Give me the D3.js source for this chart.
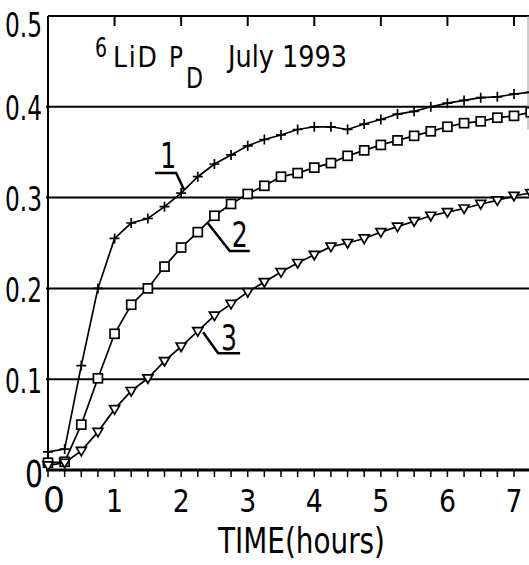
<!DOCTYPE html>
<html>
<head>
<meta charset="utf-8">
<script src="https://cdn.jsdelivr.net/npm/d3@7"></script>
<style>
  html, body { margin: 0; padding: 0; background: #fff; }
  svg { display: block; }
  text { font-family: "DejaVu Sans Condensed", "Liberation Sans Narrow", "Liberation Sans", sans-serif; fill: #000; }
</style>
</head>
<body>
<svg id="chart"></svg>
<script>
// time in hours, one reading every quarter hour
const times = [0, 0.25, 0.5, 0.75, 1, 1.25, 1.5, 1.75, 2, 2.25, 2.5, 2.75, 3, 3.25, 3.5,
  3.75, 4, 4.25, 4.5, 4.75, 5, 5.25, 5.5, 5.75, 6, 6.25, 6.5, 6.75, 7, 7.25];

// curve 1 (+)
const curve1 = [0.020, 0.023, 0.115, 0.200, 0.255, 0.272, 0.277, 0.290, 0.305, 0.323, 0.337,
  0.347, 0.357, 0.364, 0.369, 0.375, 0.378, 0.378, 0.375, 0.381, 0.386, 0.392, 0.395, 0.400,
  0.404, 0.407, 0.410, 0.411, 0.414, 0.416];
// curve 2 (squares)
const curve2 = [0.008, 0.009, 0.050, 0.101, 0.150, 0.182, 0.200, 0.224, 0.245, 0.262, 0.280,
  0.293, 0.304, 0.313, 0.323, 0.327, 0.333, 0.338, 0.346, 0.352, 0.358, 0.363, 0.368, 0.373,
  0.378, 0.382, 0.384, 0.388, 0.390, 0.394];
// curve 3 (down triangles)
const curve3 = [0.005, 0.008, 0.021, 0.042, 0.067, 0.087, 0.101, 0.120, 0.136, 0.153, 0.170,
  0.183, 0.196, 0.207, 0.218, 0.228, 0.237, 0.246, 0.250, 0.255, 0.262, 0.268, 0.274, 0.280,
  0.284, 0.288, 0.293, 0.297, 0.302, 0.305];

const xTicks = [0, 1, 2, 3, 4, 5, 6, 7];
const xMinorTicks = times;
const yTicks = [0, 0.1, 0.2, 0.3, 0.4, 0.5];
const gridValues = [0.1, 0.2, 0.3, 0.4];

const w = 529, h = 565;
const svg = d3.select("#chart").attr("width", w).attr("height", h);

const x = d3.scaleLinear().domain([0, 7]).range([48, 514]);
const y = d3.scaleLinear().domain([0, 0.5]).range([470, 16]);

// grid lines
svg.append("g")
  .selectAll("line")
  .data(gridValues)
  .join("line")
  .attr("x1", x(0) - 2).attr("x2", w)
  .attr("y1", (d) => y(d)).attr("y2", (d) => y(d))
  .attr("stroke", "#000").attr("stroke-width", 2);

// frame: top, left, bottom
svg.append("line")
  .attr("x1", x(0)).attr("x2", w).attr("y1", y(0.5)).attr("y2", y(0.5))
  .attr("stroke", "#000").attr("stroke-width", 2);
svg.append("line")
  .attr("x1", x(0)).attr("x2", x(0)).attr("y1", y(0.5)).attr("y2", y(0))
  .attr("stroke", "#000").attr("stroke-width", 2);
svg.append("line")
  .attr("x1", x(0) - 2).attr("x2", w).attr("y1", y(0)).attr("y2", y(0))
  .attr("stroke", "#000").attr("stroke-width", 3);
// faint right edge
svg.append("line")
  .attr("x1", w - 1).attr("x2", w - 1).attr("y1", y(0.5)).attr("y2", y(0.375))
  .attr("stroke", "#999").attr("stroke-width", 1);

// bottom minor ticks (every quarter hour), pointing down
svg.append("g")
  .selectAll("line")
  .data(xMinorTicks)
  .join("line")
  .attr("x1", (d) => x(d)).attr("x2", (d) => x(d))
  .attr("y1", y(0)).attr("y2", y(0) + 7)
  .attr("stroke", "#000").attr("stroke-width", 1.5);

// top ticks at every hour, pointing into the plot
svg.append("g")
  .selectAll("line")
  .data(xTicks.slice(1))
  .join("line")
  .attr("x1", (d) => x(d)).attr("x2", (d) => x(d))
  .attr("y1", y(0.5)).attr("y2", y(0.5) + 10)
  .attr("stroke", "#000").attr("stroke-width", 2);

// y labels (squeezed to the narrow lettering of the original)
svg.append("g")
  .selectAll("text")
  .data(yTicks)
  .join("text")
  .attr("x", (d) => (d === 0 ? 25 : 5))
  .attr("y", (d) => y(d) + (d === 0 ? 4 : d === 0.5 ? 9 : 2))
  .attr("dominant-baseline", "central")
  .attr("font-size", (d) => (d === 0 ? 38 : 33))
  .attr("textLength", (d) => (d === 0 ? 18 : 37))
  .attr("lengthAdjust", "spacingAndGlyphs")
  .text((d) => (d === 0 ? "0" : d3.format(".1f")(d)));

// x labels
svg.append("g")
  .selectAll("text")
  .data(xTicks)
  .join("text")
  .attr("x", (d) => x(d) + (d === 0 ? 6 : 0))
  .attr("y", 512)
  .attr("text-anchor", "middle")
  .attr("font-size", (d) => (d === 0 ? 36 : 32))
  .attr("textLength", (d) => (d === 0 ? 22 : 17))
  .attr("lengthAdjust", "spacingAndGlyphs")
  .text((d) => d);

svg.append("text")
  .attr("x", 218).attr("y", 553)
  .attr("font-size", 35)
  .attr("textLength", 167)
  .attr("lengthAdjust", "spacingAndGlyphs")
  .text("TIME(hours)");

// title
const title = svg.append("g");
title.append("text").attr("x", 95).attr("y", 57).attr("font-size", 27)
  .attr("textLength", 12).attr("lengthAdjust", "spacingAndGlyphs").text("6");
title.append("text").attr("x", 113).attr("y", 67).attr("font-size", 28)
  .attr("textLength", 44).text("LiD");
title.append("text").attr("x", 169).attr("y", 67).attr("font-size", 28)
  .attr("textLength", 14).attr("lengthAdjust", "spacingAndGlyphs").text("P");
title.append("text").attr("x", 186).attr("y", 88).attr("font-size", 28)
  .attr("textLength", 17).attr("lengthAdjust", "spacingAndGlyphs").text("D");
title.append("text").attr("x", 228).attr("y", 67).attr("font-size", 31)
  .attr("textLength", 119).attr("lengthAdjust", "spacingAndGlyphs").text("July 1993");

// curves
const series = [
  { key: "1", values: curve1, marker: "plus" },
  { key: "2", values: curve2, marker: "square" },
  { key: "3", values: curve3, marker: "tri" },
];

const line = d3.line().x((d) => x(d[0])).y((d) => y(d[1]));

const plot = svg.append("g");

series.forEach((s) => {
  const pts = times.map((t, i) => [t, s.values[i]]);
  plot.append("path")
    .datum(pts)
    .attr("fill", "none")
    .attr("stroke", "#000")
    .attr("stroke-width", 1.7)
    .attr("d", line);

  const g = plot.append("g");
  if (s.marker === "plus") {
    g.selectAll("path")
      .data(pts)
      .join("path")
      .attr("d", (d) => {
        const cx = x(d[0]), cy = y(d[1]);
        return `M${cx - 5},${cy}H${cx + 5}M${cx},${cy - 5}V${cy + 5}`;
      })
      .attr("stroke", "#000").attr("stroke-width", 1.7);
  } else if (s.marker === "square") {
    g.selectAll("rect")
      .data(pts)
      .join("rect")
      .attr("x", (d) => x(d[0]) - 4.5).attr("y", (d) => y(d[1]) - 4.5)
      .attr("width", 9).attr("height", 9)
      .attr("fill", "#fff").attr("stroke", "#000").attr("stroke-width", 1.7);
  } else {
    g.selectAll("path")
      .data(pts)
      .join("path")
      .attr("d", (d) => {
        const cx = x(d[0]), cy = y(d[1]);
        return `M${cx - 5},${cy - 3.5}H${cx + 5}L${cx},${cy + 5}Z`;
      })
      .attr("fill", "#fff").attr("stroke", "#000").attr("stroke-width", 1.7);
  }
});

// curve labels with their leader lines, anchored on the curves
const labels = [
  { text: "1", t: 2.0, v: 0.305, path: [[3, -3], [-5, -20], [-26, -20]], tx: -21, ty: -25 },
  { text: "2", t: 2.4, v: 0.272, path: [[0, 0], [22, 28], [42, 28]], tx: 24, ty: 24 },
  { text: "3", t: 2.3, v: 0.154, path: [[2, 2], [17, 23], [39, 23]], tx: 20, ty: 20 },
];

labels.forEach((l) => {
  const ax = x(l.t), ay = y(l.v);
  svg.append("path")
    .attr("d", d3.line()(l.path.map((p) => [ax + p[0], ay + p[1]])))
    .attr("fill", "none")
    .attr("stroke", "#000")
    .attr("stroke-width", 2.5);
  svg.append("text")
    .attr("x", ax + l.tx).attr("y", ay + l.ty)
    .attr("font-size", 36)
    .attr("textLength", 16)
    .attr("lengthAdjust", "spacingAndGlyphs")
    .text(l.text);
});
</script>
</body>
</html>
